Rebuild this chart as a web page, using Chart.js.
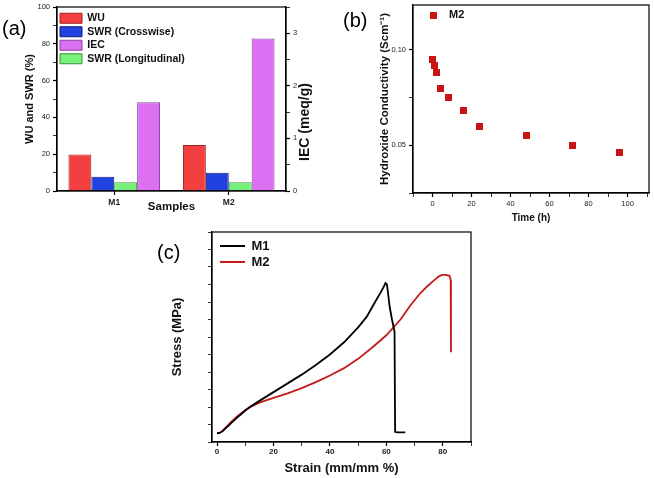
<!DOCTYPE html>
<html>
<head>
<meta charset="utf-8">
<script src="https://cdn.jsdelivr.net/npm/chart.js@4.4.0/dist/chart.umd.min.js"></script>
<style>
  body { margin: 0; background: #fff; }
  #wrap { position: relative; width: 654px; height: 478px; overflow: hidden; }
  canvas { position: absolute; }
  .tag { position: absolute; font: 20px "Liberation Sans", Arial, sans-serif; color: #000; line-height: 1; }
</style>
</head>
<body>
<div id="wrap">
  <canvas id="chartA" width="330" height="222" style="left:0;top:0"></canvas>
  <canvas id="chartB" width="324" height="228" style="left:330px;top:0"></canvas>
  <canvas id="chartC" width="330" height="256" style="left:150px;top:222px"></canvas>
  <div class="tag" style="left:2px;top:18px">(a)</div>
  <div class="tag" style="left:343px;top:10px">(b)</div>
  <div class="tag" style="left:157px;top:242px">(c)</div>
</div>
<script>
// (a) water uptake / swelling / IEC
var samples = ['M1', 'M2'];
var wu = [19.8, 25];
var swrCross = [7.8, 9.9];
var swrLong = [4.8, 4.8];
var iec = [1.69, 2.90];
var legendOrder = ['WU', 'SWR (Crosswise)', 'IEC', 'SWR (Longitudinal)'];

// (b) conductivity vs time
var timeH = [0, 1, 2, 4, 8, 16, 24, 48, 72, 96];
var condM2 = [0.095, 0.092, 0.088, 0.080, 0.075, 0.068, 0.060, 0.055, 0.050, 0.046];

// (c) stress-strain
var m1Strain = [0, 1, 2, 3, 4, 5, 7, 9, 10, 12, 15, 18, 20, 25, 30, 35, 40, 45, 50, 53, 56, 58, 59, 59.7, 60.2, 60.6, 61.2, 62, 62.9, 63.1, 64, 66.7];
var m1Stress = [0, 0.02, 0.12, 0.28, 0.42, 0.58, 0.88, 1.15, 1.3, 1.55, 1.85, 2.15, 2.35, 2.85, 3.35, 3.9, 4.5, 5.2, 6.05, 6.65, 7.5, 8.05, 8.35, 8.58, 8.5, 8.0, 7.2, 6.5, 5.8, 0.08, 0.05, 0.05];
var m2Strain = [0, 1, 2, 3, 4, 5, 7, 9, 10, 12, 15, 20, 25, 30, 35, 40, 45, 50, 55, 60, 65, 68.5, 72, 74.5, 77, 78.5, 79.7, 81, 82.4, 82.8, 82.9, 82.9];
var m2Stress = [0, 0.03, 0.15, 0.32, 0.48, 0.65, 0.95, 1.2, 1.32, 1.52, 1.75, 2.02, 2.28, 2.58, 2.92, 3.3, 3.72, 4.25, 4.9, 5.6, 6.5, 7.3, 8.0, 8.4, 8.75, 8.95, 9.05, 9.05, 9.0, 8.75, 6.5, 4.63];

// tick labels
var wuTicks = [0, 20, 40, 60, 80, 100];
var iecTicks = [0, 1, 2, 3];
var timeTicks = [0, 20, 40, 60, 80, 100];
var condTicks = [0.05, 0.10];
var strainTicks = [0, 20, 40, 60, 80];
var stressTicks = [0, 2, 4, 6, 8, 10];

Chart.defaults.font.family = '"Liberation Sans", Arial, sans-serif';
Chart.defaults.color = '#222';
Chart.defaults.animation = false;

function only(list, digits) {
    return function(v) {
        for (var i = 0; i < list.length; i++) {
            if (Math.abs(v - list[i]) < 1e-9) return digits != null ? v.toFixed(digits) : String(list[i]);
        }
        return '';
    };
}

// pin axis size so the plot boxes land where the figure has them
function fix(size) {
    return function(scale) {
        if (scale.isHorizontal()) scale.height = size; else scale.width = size;
        scale.paddingTop = scale.paddingBottom = scale.paddingLeft = scale.paddingRight = 0;
    };
}

// empty legend title, only used to push the legend rows down
function spacer(h) {
    return { display: true, text: ' ', font: { size: 5 }, padding: { top: (h - 6) / 2, bottom: (h - 6) / 2 } };
}

var tickGrid = {
    drawOnChartArea: false, tickLength: 4, color: '#000',
    tickWidth: function(c) { return c.tick && c.tick.label === '' ? 0.8 : 1.2; }
};
var axisBorder = { color: '#000', width: 1.2 };

var framePlugin = {
    id: 'frame',
    afterDraw: function(chart) {
        var a = chart.chartArea, ctx = chart.ctx;
        ctx.save();
        ctx.strokeStyle = '#000';
        ctx.lineWidth = 1.2;
        ctx.strokeRect(a.left, a.top, a.right - a.left, a.bottom - a.top);
        ctx.restore();
    }
};

var iecTitle = {
    id: 'iecTitle',
    afterDraw: function(chart) {
        var ctx = chart.ctx;
        ctx.save();
        ctx.translate(305, 122);
        ctx.rotate(-Math.PI / 2);
        ctx.font = 'bold 14px "Liberation Sans", Arial, sans-serif';
        ctx.fillStyle = '#111';
        ctx.textAlign = 'center';
        ctx.textBaseline = 'middle';
        ctx.fillText('IEC (meq/g)', 0, 0);
        ctx.restore();
    }
};

// ---- (a)
new Chart(document.getElementById('chartA'), {
    type: 'bar',
    data: {
        labels: samples,
        datasets: [
            { label: 'WU', data: wu, backgroundColor: '#F23F3F', borderColor: '#A32020', borderWidth: 1, yAxisID: 'y' },
            { label: 'SWR (Crosswise)', data: swrCross, backgroundColor: '#2042E0', borderColor: '#121B7A', borderWidth: 1, yAxisID: 'y' },
            { label: 'SWR (Longitudinal)', data: swrLong, backgroundColor: '#78F07C', borderColor: '#3C8F40', borderWidth: 1, yAxisID: 'y' },
            { label: 'IEC', data: iec, backgroundColor: '#DC70F2', borderColor: '#84409A', borderWidth: 1, yAxisID: 'y1' }
        ]
    },
    options: {
        responsive: false,
        datasets: { bar: { categoryPercentage: 0.8, barPercentage: 1 } },
        layout: { padding: { left: 20, top: 7, right: 0, bottom: 0 } },
        plugins: {
            tooltip: { enabled: false },
            legend: {
                position: 'chartArea',
                align: 'start',
                title: spacer(10),
                labels: {
                    boxWidth: 22, boxHeight: 10, padding: 3, color: '#111',
                    font: { size: 10.5, weight: 'bold' },
                    sort: function(a, b) { return legendOrder.indexOf(a.text) - legendOrder.indexOf(b.text); }
                }
            }
        },
        scales: {
            x: {
                grid: Object.assign({ offset: false }, tickGrid),
                border: axisBorder,
                ticks: { font: { size: 8.5, weight: 'bold' }, padding: 3 },
                title: { display: true, text: 'Samples', color: '#111', font: { size: 11.5, weight: 'bold' }, padding: { top: 0, bottom: 8 } },
                afterFit: fix(31)
            },
            y: {
                position: 'left', min: 0, max: 100,
                grid: tickGrid, border: axisBorder,
                ticks: { stepSize: 10, callback: only(wuTicks), font: { size: 7.5 }, padding: 3 },
                title: { display: true, text: 'WU and SWR (%)', color: '#111', font: { size: 11, weight: 'bold' }, padding: { top: 3, bottom: 0 } },
                afterFit: fix(37)
            },
            y1: {
                position: 'right', min: 0, max: 3.5,
                grid: tickGrid, border: axisBorder,
                ticks: { stepSize: 0.5, callback: only(iecTicks), font: { size: 7.5 }, padding: 3 },
                afterFit: fix(44)
            }
        }
    },
    plugins: [framePlugin, iecTitle]
});

// ---- (b)
var sqMark = document.createElement('canvas');
sqMark.width = 7; sqMark.height = 7;
var g = sqMark.getContext('2d');
g.fillStyle = '#C81414';
g.fillRect(0, 0, 7, 7);

new Chart(document.getElementById('chartB'), {
    type: 'scatter',
    data: {
        datasets: [{
            label: 'M2',
            data: timeH.map(function(t, i) { return { x: t, y: condM2[i] }; }),
            pointStyle: sqMark, pointRadius: 4,
            backgroundColor: '#C81414', borderColor: '#C81414'
        }]
    },
    options: {
        responsive: false,
        layout: { padding: { left: 45, top: 2, right: 2, bottom: 0 } },
        plugins: {
            tooltip: { enabled: false },
            legend: {
                position: 'chartArea',
                align: 'start',
                labels: { usePointStyle: true, pointStyleWidth: 21, padding: 9.5, color: '#111', font: { size: 11, weight: 'bold' } }
            }
        },
        scales: {
            x: {
                type: 'linear', min: -10, max: 111,
                grid: tickGrid, border: axisBorder,
                ticks: { stepSize: 10, includeBounds: false, callback: only(timeTicks), font: { size: 7.5 }, padding: 2 },
                title: { display: true, text: 'Time (h)', color: '#111', font: { size: 10, weight: 'bold' }, padding: { top: 0, bottom: 4 } },
                afterFit: fix(35)
            },
            y: {
                min: 0.025, max: 0.1235,
                grid: tickGrid, border: axisBorder,
                ticks: { stepSize: 0.025, includeBounds: false, callback: only(condTicks, 2), font: { size: 7.5 }, padding: 3 },
                title: { display: true, text: 'Hydroxide Conductivity (Scm\u207B\u00B9)', color: '#111', font: { size: 11.5, weight: 'bold' }, padding: { top: 3, bottom: 0 } },
                afterFit: fix(38)
            }
        }
    },
    plugins: [framePlugin]
});

// ---- (c)
function lineMark(color) {
    var c = document.createElement('canvas');
    c.width = 30; c.height = 2;
    var x = c.getContext('2d');
    x.fillStyle = color;
    x.fillRect(5, 0, 25, 2);
    return c;
}
function pairs(xs, ys) {
    return xs.map(function(v, i) { return { x: v, y: ys[i] }; });
}

new Chart(document.getElementById('chartC'), {
    type: 'line',
    data: {
        datasets: [
            { label: 'M1', data: pairs(m1Strain, m1Stress), borderColor: '#000', borderWidth: 1.8, pointRadius: 0, pointStyle: lineMark('#000'), tension: 0, fill: false },
            { label: 'M2', data: pairs(m2Strain, m2Stress), borderColor: '#C41A1A', borderWidth: 1.8, pointRadius: 0, pointStyle: lineMark('#C41A1A'), tension: 0, fill: false }
        ]
    },
    options: {
        responsive: false,
        layout: { padding: { left: 20, top: 10, right: 9, bottom: 0 } },
        plugins: {
            tooltip: { enabled: false },
            legend: {
                position: 'chartArea',
                align: 'start',
                title: spacer(14.5),
                labels: { usePointStyle: true, pointStyleWidth: 30, padding: 3, color: '#111', font: { size: 13, weight: 'bold' } }
            }
        },
        scales: {
            x: {
                type: 'linear', min: -1.8, max: 90,
                grid: tickGrid, border: axisBorder,
                ticks: { stepSize: 10, includeBounds: false, callback: only(strainTicks), font: { size: 8, weight: 'bold' }, padding: 1 },
                title: { display: true, text: 'Strain (mm/mm %)', color: '#111', font: { size: 13, weight: 'bold' }, padding: { top: 0, bottom: 2 } },
                afterFit: fix(36)
            },
            y: {
                min: -0.5, max: 11.5,
                grid: tickGrid, border: axisBorder,
                ticks: { stepSize: 1, includeBounds: false, callback: only(stressTicks), font: { size: 8, weight: 'bold' }, padding: 4 },
                title: { display: true, text: 'Stress (MPa)', color: '#111', font: { size: 13, weight: 'bold' }, padding: { top: 0, bottom: 0 } },
                afterFit: fix(42)
            }
        }
    },
    plugins: [framePlugin]
});
</script>
</body>
</html>
